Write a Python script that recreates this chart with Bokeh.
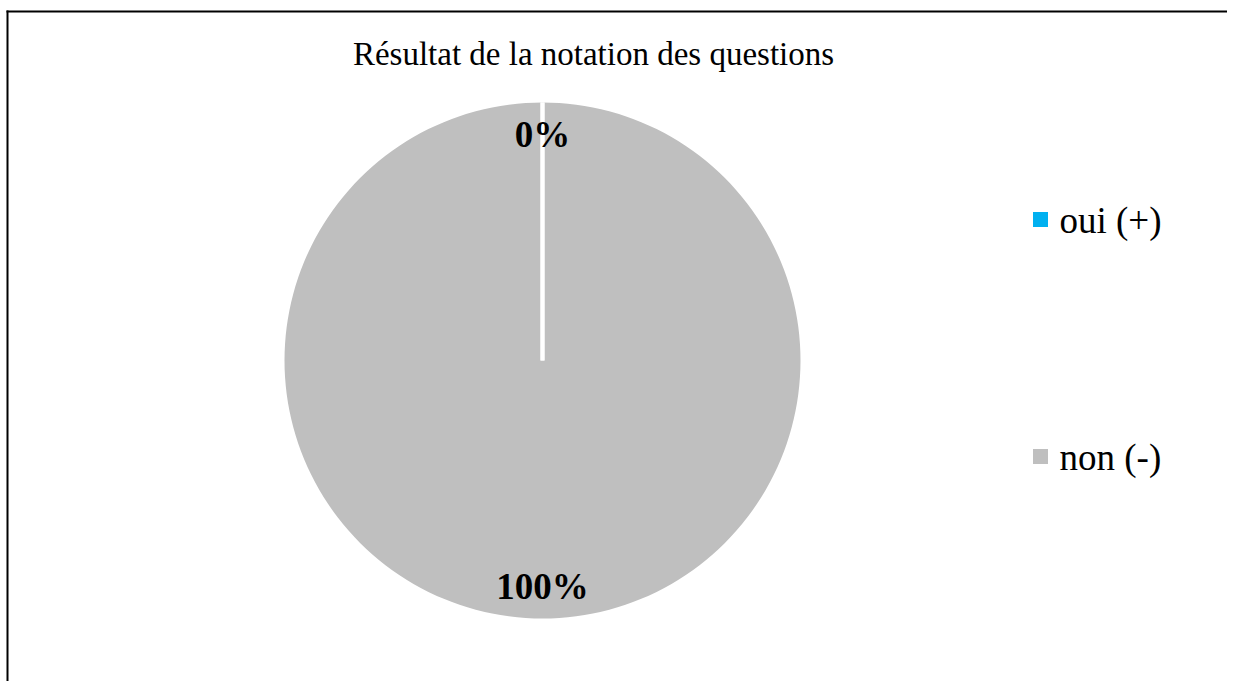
import math
from bokeh.plotting import figure
from bokeh.models import Range1d, Label, ColumnDataSource
from bokeh.core.properties import value
from bokeh.embed import file_html
from bokeh.resources import INLINE

# ---- data ----
title_text = "Résultat de la notation des questions"
categories = ["oui (+)", "non (-)"]
values = [0, 100]
colors = ["#00B0F0", "#BFBFBF"]

# ---- layout (pixel-like data space) ----
W, H = 1227, 681
cx, cy = 542, 321          # pie centre
R = 258                    # pie radius (px)
label_r = 226              # label distance from centre
serif = "Liberation Serif"

p = figure(width=W, height=H, output_backend="svg", toolbar_location=None,
           x_range=Range1d(0, W), y_range=Range1d(0, H), min_border=0,
           border_fill_color="white", background_fill_color="white")
p.axis.visible = False
p.grid.visible = False
p.outline_line_color = None

total = float(sum(values))
start = math.pi / 2
starts, ends, mids, pcts = [], [], [], []
for v in values:
    ang = 2 * math.pi * v / total
    starts.append(start)
    ends.append(start - ang)
    mids.append(start - ang / 2)
    pcts.append(f"{round(100 * v / total)}%")
    start -= ang

# wedges only for non-empty slices
w_start, w_end, w_col = [], [], []
for s, e, c, v in zip(starts, ends, colors, values):
    if v <= 0:
        continue
    if s - e >= 2 * math.pi - 1e-9:
        e = s - (2 * math.pi - 1e-5)
    w_start.append(s)
    w_end.append(e)
    w_col.append(c)
wsrc = ColumnDataSource(dict(start=w_start, end=w_end, color=w_col))
p.wedge(x=cx, y=cy, radius=R, radius_units="screen",
        start_angle="end", end_angle="start", direction="anticlock",
        fill_color="color", line_color=None, source=wsrc)

src = ColumnDataSource(dict(
    lx=[cx + label_r * math.cos(m) for m in mids],
    ly=[cy + label_r * math.sin(m) for m in mids],
    pct=pcts,
    x0=[cx] * len(values), y0=[cy] * len(values),
    x1=[cx + R * math.cos(s) for s in starts],
    y1=[cy + R * math.sin(s) for s in starts],
))

# slice separators (white)
p.segment(x0="x0", y0="y0", x1="x1", y1="y1", line_color="white",
          line_width=4, source=src)

# percentage labels
p.text(x="lx", y="ly", text="pct", source=src, text_align="center",
       text_baseline="middle", text_font=value(serif),
       text_font_style="bold", text_font_size="37px", text_color="black")

# title
p.add_layout(Label(x=593, y=628, text=title_text, text_align="center",
                   text_baseline="middle", text_font=serif,
                   text_font_size="33px", text_color="black"))

# legend (manual)
leg_x, leg_y0, leg_step = 1040, 462, 237
leg_src = ColumnDataSource(dict(
    x=[leg_x] * len(categories),
    y=[leg_y0 - i * leg_step for i in range(len(categories))],
    tx=[leg_x + 19] * len(categories),
    ty=[leg_y0 - i * leg_step - 1 for i in range(len(categories))],
    label=categories, color=colors,
))
p.rect(x="x", y="y", width=15, height=15, width_units="screen",
       height_units="screen", fill_color="color", line_color=None,
       source=leg_src)
p.text(x="tx", y="ty", text="label", source=leg_src, text_align="left",
       text_baseline="middle", text_font=value(serif),
       text_font_size="37px", text_color="black")

# frame border (left and top edges of the original chart box)
p.segment(x0=[7, 6], y0=[671, 670], x1=[7, W], y1=[0, 670],
          line_color="black", line_width=2)

open("out.html", "w").write(file_html(p, INLINE))
